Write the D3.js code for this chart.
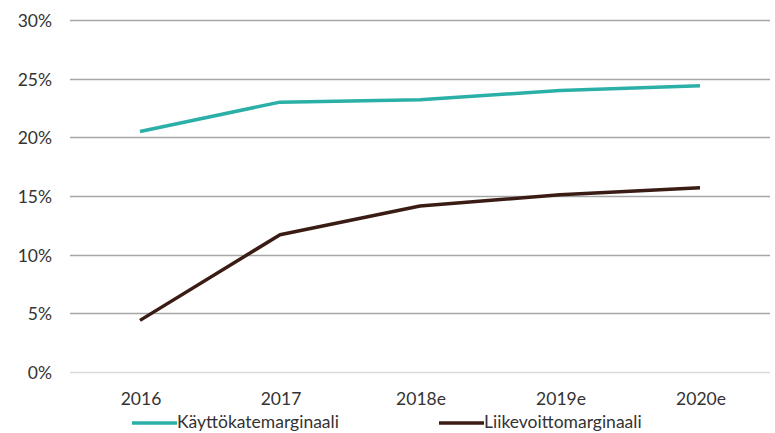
<!DOCTYPE html>
<html>
<head>
<meta charset="utf-8">
<script src="https://cdn.jsdelivr.net/npm/d3@7"></script>
<style>
  body { margin: 0; background: #fff; }
  text { font-family: Lato, "Open Sans", sans-serif; fill: #333; }
</style>
</head>
<body>
<div id="chart"></div>
<script>
"use strict";

var categories = ["2016", "2017", "2018e", "2019e", "2020e"];
var kayttokate = [20.5, 23.0, 23.2, 24.0, 24.4];
var liikevoitto = [4.4, 11.7, 14.15, 15.1, 15.7];
var yTicks = [0, 5, 10, 15, 20, 25, 30];
var seriesNames = ["Käyttökatemarginaali", "Liikevoittomarginaali"];
var seriesColors = ["#2bb0a8", "#3a1c14"];

var width = 775, height = 433;
var margin = { top: 20, right: 5, bottom: 61, left: 70 };
var FONT_SIZE = "17.5px";

var svg = d3.select("#chart")
    .append("svg")
    .attr("width", width)
    .attr("height", height);

var x = d3.scaleBand()
    .domain(categories)
    .range([margin.left, width - margin.right]);

var y = d3.scaleLinear()
    .domain([0, 30])
    .range([height - margin.bottom, margin.top]);

// gridlines
svg.append("g")
    .selectAll("line")
    .data(yTicks)
    .enter()
    .append("line")
    .attr("x1", margin.left)
    .attr("x2", 770)
    .attr("y1", function(d) { return Math.round(y(d)) + 0.5; })
    .attr("y2", function(d) { return Math.round(y(d)) + 0.5; })
    .attr("stroke", function(d) { return d === 0 ? "#d9d9d9" : "#a6a6a6"; })
    .attr("stroke-width", 1.5);

// y labels
svg.append("g")
    .selectAll("text")
    .data(yTicks)
    .enter()
    .append("text")
    .attr("x", 52)
    .attr("y", function(d) { return y(d) + 7; })
    .attr("text-anchor", "end")
    .style("font-size", FONT_SIZE)
    .text(function(d) { return d + "%"; });

// x labels
svg.append("g")
    .selectAll("text")
    .data(categories)
    .enter()
    .append("text")
    .attr("x", function(d) { return x(d) + x.bandwidth() / 2 + 1; })
    .attr("y", 405)
    .attr("text-anchor", "middle")
    .style("font-size", FONT_SIZE)
    .text(function(d) { return d; });

var line = d3.line()
    .x(function(d, i) { return x(categories[i]) + x.bandwidth() / 2; })
    .y(function(d) { return y(d); });

[kayttokate, liikevoitto].forEach(function(values, i) {
    svg.append("path")
        .datum(values)
        .attr("fill", "none")
        .attr("stroke", seriesColors[i])
        .attr("stroke-width", 3.5)
        .attr("stroke-linejoin", "round")
        .attr("d", line);
});

// legend
var legendX = [132, 439];
seriesNames.forEach(function(name, i) {
    svg.append("line")
        .attr("x1", legendX[i])
        .attr("x2", legendX[i] + 45)
        .attr("y1", 423)
        .attr("y2", 423)
        .attr("stroke", seriesColors[i])
        .attr("stroke-width", 3.5);
    svg.append("text")
        .attr("x", legendX[i] + 45)
        .attr("y", 428)
        .style("font-size", FONT_SIZE)
        .text(name);
});
</script>
</body>
</html>
